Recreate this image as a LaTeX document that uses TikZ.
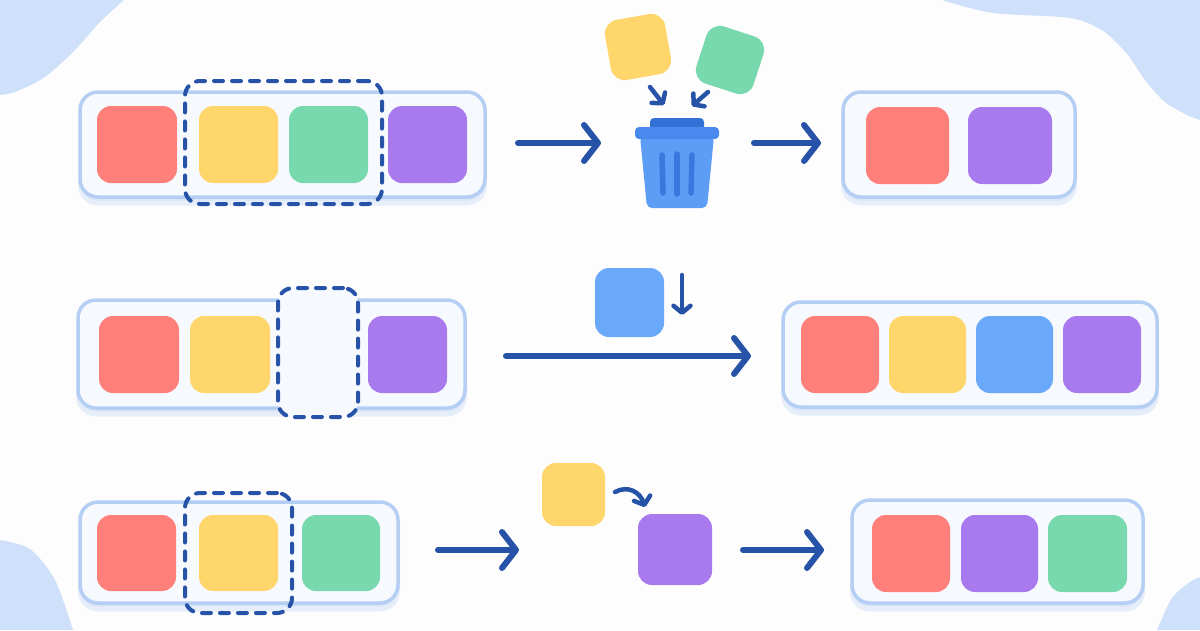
\documentclass[tikz,border=0pt]{standalone}
\usetikzlibrary{arrows.meta}
\definecolor{bgc}{HTML}{FDFDFE}
\definecolor{blob}{HTML}{CFE1FA}
\definecolor{cborder}{HTML}{B5CEF4}
\definecolor{cfill}{HTML}{F6F9FE}
\definecolor{cshadow}{HTML}{E6EEFA}
\definecolor{cshadowb}{HTML}{D9E5F8}
\definecolor{sred}{HTML}{FF7F7A}
\definecolor{syellow}{HTML}{FFD66B}
\definecolor{sgreen}{HTML}{79D9AE}
\definecolor{spurple}{HTML}{A97AEE}
\definecolor{sblue}{HTML}{6AA8FA}
\definecolor{arr}{HTML}{2652A8}
\definecolor{tbody}{HTML}{5C9DF6}
\definecolor{tlid}{HTML}{4A8AEE}
\definecolor{thandle}{HTML}{3270D6}
\definecolor{tstripe}{HTML}{3A78DD}
\tikzset{
  container/.style={draw=cborder, line width=3.5pt, fill=cfill, rounded corners=18pt, inner sep=0pt},
  cshad/.style={fill=cshadow, rounded corners=20pt, inner sep=0pt, draw=none},
  cshadb/.style={fill=cshadowb, rounded corners=18pt, inner sep=0pt, draw=none},
  sq/.style={rounded corners=14pt, inner sep=0pt, draw=none},
  dashbox/.style={draw=arr, line width=4pt, dash pattern=on 9pt off 9pt, line cap=round, rounded corners=15pt, inner sep=0pt},
  bigarrow/.style={draw=arr, line width=6pt, line cap=round, -{Straight Barb[round, length=14pt, width=36pt]}},
  smallarrow/.style={draw=arr, line width=4.5pt, line cap=round, -{Straight Barb[round, length=7pt, width=17pt]}},
}
\begin{document}
\begin{tikzpicture}[x=1pt, y=-1pt]
\useasboundingbox (0,0) rectangle (1200,630);
\fill[bgc] (0,0) rectangle (1200,630);
% background blobs
\fill[blob] (0,0) -- plot[smooth] coordinates {(124,0) (100,22) (75,50) (45,77) (15,92) (0,95)} -- cycle;
\fill[blob] (1200,0) -- plot[smooth] coordinates {(942,0) (993,13) (1070,18) (1103,31) (1127,54) (1145,80) (1165,102) (1187,115) (1200,120)} -- cycle;
\fill[blob] (0,630) -- plot[smooth] coordinates {(0,540) (30,549) (55,580) (73,630)} -- cycle;
\fill[blob] (1200,630) -- plot[smooth] coordinates {(1157,630) (1172,598) (1190,582) (1200,577)} -- cycle;

% ===== Row 1 =====
\node[cshad, minimum width=409pt, minimum height=109pt] (c1s) at (282.5,151) {};
\node[cshadb, minimum width=405pt, minimum height=105pt] (c1t) at (282.5,148) {};
\node[container, minimum width=405pt, minimum height=105pt] (c1) at (282.5,144.5) {};
\node[sq, fill=sred, minimum width=80pt, minimum height=77pt] (c1a) at (137,144.5) {};
\node[sq, fill=syellow, minimum width=79pt, minimum height=77pt] (c1b) at (238.5,144.5) {};
\node[sq, fill=sgreen, minimum width=79pt, minimum height=77pt] (c1c) at (328.5,144.5) {};
\node[sq, fill=spurple, minimum width=79pt, minimum height=77pt] (c1d) at (427.5,144.5) {};
\node[dashbox, minimum width=197pt, minimum height=123pt] (d1) at (283.5,142.5) {};

\coordinate (a1s) at (518,143);
\coordinate (a1e) at (601,143);
\draw[bigarrow] (a1s) -- (a1e);

% falling squares
\node[sq, fill=syellow, minimum size=61pt, rotate=10] (fy) at (638,47) {};
\node[sq, fill=sgreen, minimum size=60pt, rotate=-18] (fg) at (730,60) {};
\coordinate (fy1) at (650,87);
\coordinate (fy2) at (664,105);
\coordinate (fg1) at (708,92);
\coordinate (fg2) at (692,106);
\draw[smallarrow] (fy1) -- (fy2);
\draw[smallarrow] (fg1) -- (fg2);

% trash can
\node[inner sep=0pt, minimum size=0pt] (trash) at (677,172) {};
\fill[tbody, rounded corners=5pt] (640,136) -- (714,136) -- (707,208) -- (647,208) -- cycle;
\fill[thandle, rounded corners=4pt] (650,118) rectangle (704,132);
\fill[tlid, rounded corners=4pt] (635,127) rectangle (719,139);
\draw[tstripe, line width=5.5pt, line cap=round] (662,155) -- (663,193);
\draw[tstripe, line width=5.5pt, line cap=round] (677,154) -- (677,194);
\draw[tstripe, line width=5.5pt, line cap=round] (692,155) -- (691,193);

\coordinate (a2s) at (754,143);
\coordinate (a2e) at (821,143);
\draw[bigarrow] (a2s) -- (a2e);

\node[cshad, minimum width=236pt, minimum height=109pt] (c2s) at (959,151) {};
\node[cshadb, minimum width=232pt, minimum height=105pt] (c2t) at (959,148) {};
\node[container, minimum width=232pt, minimum height=105pt] (c2) at (959,144.5) {};
\node[sq, fill=sred, minimum width=83pt, minimum height=77pt] (c2a) at (907.5,145.5) {};
\node[sq, fill=spurple, minimum width=84pt, minimum height=77pt] (c2b) at (1010,145.5) {};

% ===== Row 2 =====
\node[cshad, minimum width=391pt, minimum height=112pt] (c3s) at (271.5,360.5) {};
\node[cshadb, minimum width=387pt, minimum height=108pt] (c3t) at (271.5,357.5) {};
\node[container, minimum width=387pt, minimum height=108pt] (c3) at (271.5,354) {};
\node[sq, fill=sred, minimum width=80pt, minimum height=77pt] (c3a) at (139,354.5) {};
\node[sq, fill=syellow, minimum width=80pt, minimum height=77pt] (c3b) at (230,354.5) {};
\node[sq, fill=spurple, minimum width=79pt, minimum height=77pt] (c3d) at (407.5,354.5) {};
\node[dashbox, fill=cfill, minimum width=80pt, minimum height=129pt] (d2) at (318,352.5) {};

\node[sq, fill=sblue, minimum width=69pt, minimum height=69pt] (nb) at (629.5,302.5) {};
\coordinate (db1) at (682,275);
\coordinate (db2) at (682,315);
\draw[smallarrow] (db1) -- (db2);
\coordinate (a3s) at (506,356);
\coordinate (a3e) at (751,356);
\draw[bigarrow] (a3s) -- (a3e);

\node[cshad, minimum width=378pt, minimum height=109pt] (c4s) at (970,361) {};
\node[cshadb, minimum width=374pt, minimum height=105pt] (c4t) at (970,358) {};
\node[container, minimum width=374pt, minimum height=105pt] (c4) at (970,354.5) {};
\node[sq, fill=sred, minimum width=78pt, minimum height=77pt] (c4a) at (840,354.5) {};
\node[sq, fill=syellow, minimum width=77pt, minimum height=77pt] (c4b) at (927.5,354.5) {};
\node[sq, fill=sblue, minimum width=77pt, minimum height=77pt] (c4c) at (1014.5,354.5) {};
\node[sq, fill=spurple, minimum width=78pt, minimum height=77pt] (c4d) at (1102,354.5) {};

% ===== Row 3 =====
\node[cshad, minimum width=322pt, minimum height=105pt] (c5s) at (239,559) {};
\node[cshadb, minimum width=318pt, minimum height=101pt] (c5t) at (239,556) {};
\node[container, minimum width=318pt, minimum height=101pt] (c5) at (239,552.5) {};
\node[sq, fill=sred, minimum width=79pt, minimum height=76pt] (c5a) at (136.5,553) {};
\node[sq, fill=syellow, minimum width=79pt, minimum height=76pt] (c5b) at (238.5,553) {};
\node[sq, fill=sgreen, minimum width=78pt, minimum height=76pt] (c5c) at (341,553) {};
\node[dashbox, minimum width=107pt, minimum height=120pt] (d3) at (238.5,553) {};

\coordinate (a5s) at (438,550);
\coordinate (a5e) at (519,550);
\draw[bigarrow] (a5s) -- (a5e);

\node[sq, fill=syellow, minimum width=63pt, minimum height=63pt] (sy) at (573.5,494.5) {};
\node[sq, fill=spurple, minimum width=74pt, minimum height=71pt] (sp) at (675,549.5) {};
\coordinate (cv1) at (615,492);
\coordinate (cv2) at (645,507);
\draw[smallarrow] (cv1) .. controls (628,485) and (640,492) .. (cv2);

\coordinate (a6s) at (743,550);
\coordinate (a6e) at (824,550);
\draw[bigarrow] (a6s) -- (a6e);

\node[cshad, minimum width=295pt, minimum height=107pt] (c6s) at (997.5,558) {};
\node[cshadb, minimum width=291pt, minimum height=103pt] (c6t) at (997.5,555) {};
\node[container, minimum width=291pt, minimum height=103pt] (c6) at (997.5,551.5) {};
\node[sq, fill=sred, minimum width=78pt, minimum height=77pt] (c6a) at (911,553.5) {};
\node[sq, fill=spurple, minimum width=77pt, minimum height=77pt] (c6b) at (999.5,553.5) {};
\node[sq, fill=sgreen, minimum width=79pt, minimum height=77pt] (c6c) at (1087.5,553.5) {};
\end{tikzpicture}
\end{document}
